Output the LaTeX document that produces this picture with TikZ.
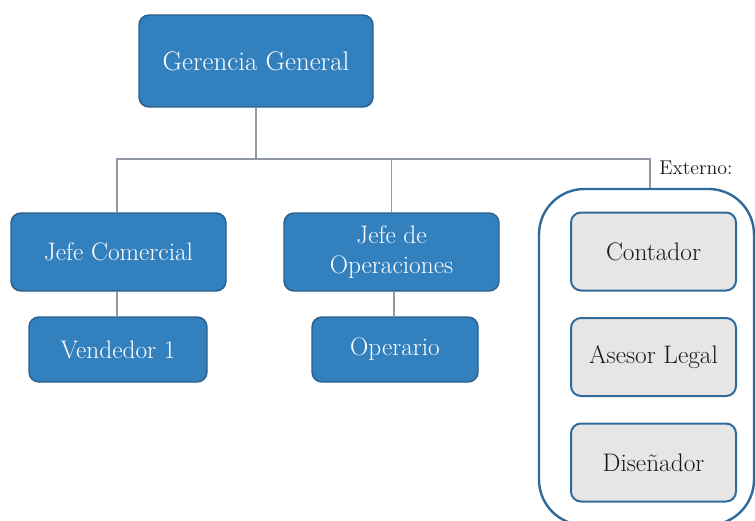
\documentclass[tikz,border=0pt]{standalone}
\usepackage{fontspec}
\usetikzlibrary{calc}
\definecolor{boxblue}{RGB}{51,128,190}
\definecolor{edgeblue}{RGB}{44,96,140}
\definecolor{extblue}{RGB}{48,106,155}
\definecolor{boxgrey}{RGB}{230,230,230}
\definecolor{linkgrey}{RGB}{144,152,166}

\begin{document}
\begin{tikzpicture}[x=0.75pt, y=-0.75pt,
		jefe/.style={draw=edgeblue, line width=1.1pt, fill=boxblue, rounded corners=7.5pt, text=white, align=center, font=\fontsize{19}{22.5}\selectfont},
		externo/.style={draw=extblue, line width=1.5pt, fill=boxgrey, rounded corners=7.5pt, text=black!90, minimum width=123.75pt, minimum height=58.5pt, font=\fontsize{19}{22.5}\selectfont},
		link/.style={draw=linkgrey, line width=0.9pt}]
			%%%%% START %%%%%
			\useasboundingbox (0, 0) rectangle (755, 520);
			
			\node[jefe, minimum width=175.5pt, minimum height=69pt, font=\fontsize{20.2}{24}\selectfont] (gg) at (256, 61) {Gerencia General};
			
			\node[jefe, minimum width=161.25pt, minimum height=58.5pt] (jc) at (118.5, 252) {Jefe Comercial};
			\node[jefe, minimum width=161.25pt, minimum height=58.5pt] (jo) at (391.5, 252) {Jefe de\\Operaciones};
			
			\node[jefe, minimum width=133.5pt, minimum height=48.75pt] (ve) at (118, 349.5) {Vendedor 1};
			\node[jefe, minimum width=124.5pt, minimum height=48.75pt] (op) at (395, 349.5) {Operario};
			
			% externos
			\node[draw=extblue, line width=1.8pt, rounded corners=34pt, minimum width=161.25pt, minimum height=252pt] (ext) at (646.5, 357) {};
			\node[externo] (co) at (653.5, 251.5) {Contador};
			\node[externo] (al) at (653.5, 357) {Asesor Legal};
			\node[externo] (di) at (653.5, 462.5) {Diseñador};
			\node[text=black!90, font=\fontsize{14.9}{18}\selectfont] (lbl) at (696, 168) {Externo:};
			
			% lineas
			\coordinate (busL) at (117, 159);
			\coordinate (busR) at (650, 159);
			\coordinate (opx) at (394, 0);
			\draw[link] (gg.south) -- (gg.south |- busL);
			\draw[link] (jc.north -| busL) -- (busL) -- (busR) -- (busR |- ext.north);
			\draw[link] (jo.north) -- (jo.north |- busL);
			\draw[link] (ve.north -| busL) -- (jc.south -| busL);
			\draw[link] (op.north -| opx) -- (jo.south -| opx);
			%%%%% END %%%%%
		\end{tikzpicture}
\end{document}
